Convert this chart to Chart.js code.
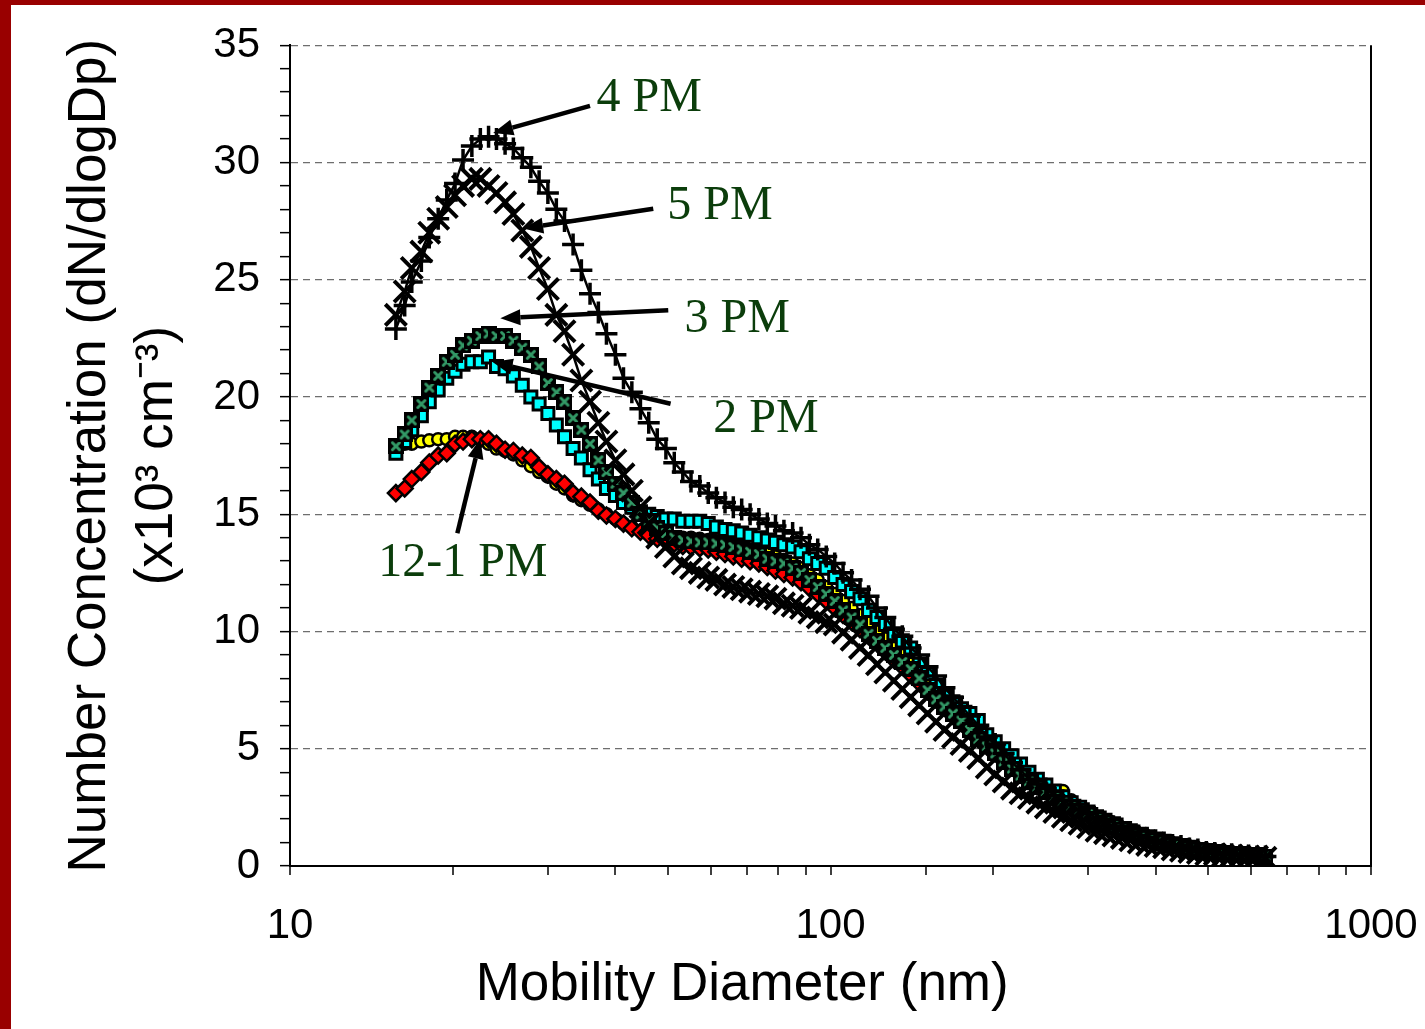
<!DOCTYPE html>
<html>
<head>
<meta charset="utf-8">
<script src="https://cdn.jsdelivr.net/npm/chart.js@4/dist/chart.umd.min.js"></script>
<style>
  html, body { margin: 0; padding: 0; background: #ffffff; }
  #wrap { position: relative; width: 1425px; height: 1029px; overflow: hidden; background: #ffffff; }
  #c { position: absolute; left: 0; top: 0; }
  .bar { position: absolute; background: #990000; }
</style>
</head>
<body>
<div id="wrap">
  <canvas id="c" width="1425" height="1029"></canvas>
  <div class="bar" style="left:0;top:0;width:1425px;height:5px;"></div>
  <div class="bar" style="left:0;top:0;width:11px;height:1029px;"></div>
</div>
<script>
// ---- data ----
const diameters = [15.7, 16.3, 16.8, 17.5, 18.1, 18.8, 19.5, 20.2, 20.9, 21.7,
  22.5, 23.3, 24.1, 25.0, 25.9, 26.9, 27.9, 28.9, 30.0, 31.1,
  32.2, 33.4, 34.6, 35.9, 37.2, 38.5, 40.0, 41.4, 42.9, 44.5,
  46.1, 47.8, 49.6, 51.4, 53.3, 55.2, 57.3, 59.4, 61.5, 63.8,
  66.1, 68.5, 71.0, 73.7, 76.4, 79.1, 82.0, 85.1, 88.2, 91.4,
  94.7, 98.2, 101.8, 105.5, 109.4, 113.4, 117.6, 121.9, 126.3, 131.0,
  135.8, 140.7, 145.9, 151.2, 156.8, 162.5, 168.5, 174.7, 181.1, 187.7,
  194.6, 201.7, 209.1, 216.7, 224.7, 232.9, 241.4, 250.3, 259.5, 269.0,
  278.8, 289.0, 299.6, 310.6, 322.0, 333.8, 346.0, 358.7, 371.8, 385.4,
  399.5, 414.2, 429.4, 445.1, 461.4, 478.3, 495.8, 514.0, 532.8, 552.3,
  572.5, 593.5, 615.3, 637.8];

const seriesNames = ["12 PM", "1 PM", "2 PM", "3 PM", "4 PM", "5 PM"];

const pm12 = [17.8, 18.0, 18.0, 18.1, 18.15, 18.2, 18.2, 18.3, 18.3, 18.3,
  18.2, 18.0, 17.8, 17.7, 17.55, 17.3, 17.05, 16.8, 16.6, 16.3,
  16.1, 15.8, 15.6, 15.4, 15.2, 15.0, 14.8, 14.6, 14.45, 14.3,
  14.2, 14.1, 14.0, 14.0, 14.0, 14.0, 13.95, 13.9, 13.85, 13.8,
  13.7, 13.6, 13.5, 13.4, 13.3, 13.2, 13.05, 12.9, 12.7, 12.4,
  12.2, 11.9, 11.6, 11.3, 11.0, 10.7, 10.4, 10.0, 9.7, 9.3,
  9.0, 8.7, 8.3, 7.9, 7.5, 7.1, 6.8, 6.5, 6.1, 5.8,
  5.4, 5.1, 4.75, 4.45, 4.15, 3.85, 3.6, 3.4, 3.15, 3.2,
  2.8, 2.5, 2.3, 2.1, 1.95, 1.8, 1.6, 1.5, 1.35, 1.25,
  1.15, 1.05, 0.95, 0.85, 0.8, 0.7, 0.65, 0.6, 0.55, 0.5,
  0.5, 0.45, 0.45, 0.4];

const pm1 = [15.9, 16.1, 16.5, 16.8, 17.2, 17.5, 17.6, 18.0, 18.1, 18.2,
  18.2, 18.2, 18.0, 17.75, 17.7, 17.5, 17.4, 17.0, 16.7, 16.5,
  16.3, 15.9, 15.75, 15.5, 15.15, 14.95, 14.8, 14.6, 14.4, 14.25,
  14.1, 13.95, 13.85, 13.75, 13.65, 13.6, 13.55, 13.5, 13.4, 13.3,
  13.2, 13.1, 13.0, 12.9, 12.75, 12.6, 12.45, 12.3, 12.1, 11.85,
  11.6, 11.3, 11.0, 10.7, 10.4, 10.1, 9.8, 9.5, 9.15, 8.8,
  8.5, 8.15, 7.8, 7.45, 7.1, 6.75, 6.4, 6.1, 5.75, 5.4,
  5.1, 4.8, 4.5, 4.2, 3.9, 3.65, 3.4, 3.2, 2.95, 2.75,
  2.55, 2.4, 2.2, 2.05, 1.9, 1.75, 1.6, 1.45, 1.35, 1.25,
  1.1, 1.0, 0.95, 0.85, 0.8, 0.7, 0.65, 0.6, 0.55, 0.5,
  0.5, 0.45, 0.45, 0.4];

const pm2 = [17.6, 18.1, 18.6, 19.2, 19.8, 20.3, 20.8, 21.1, 21.4, 21.5,
  21.5, 21.7, 21.3, 21.2, 20.9, 20.5, 20.0, 19.7, 19.3, 18.8,
  18.3, 17.8, 17.4, 16.9, 16.5, 16.1, 15.8, 15.5, 15.3, 15.1,
  15.0, 14.9, 14.8, 14.8, 14.7, 14.7, 14.7, 14.6, 14.45, 14.35,
  14.3, 14.2, 14.1, 14.0, 13.9, 13.8, 13.7, 13.6, 13.4, 13.1,
  12.9, 12.7, 12.3, 12.0, 11.7, 11.4, 10.9, 10.6, 10.3, 9.9,
  9.6, 9.3, 8.6, 8.2, 7.7, 7.25, 7.0, 6.7, 6.5, 6.2,
  5.6, 5.3, 5.0, 4.7, 4.35, 4.0, 3.7, 3.45, 3.2, 2.95,
  2.7, 2.5, 2.3, 2.1, 1.95, 1.8, 1.6, 1.5, 1.35, 1.25,
  1.15, 1.05, 0.95, 0.85, 0.8, 0.7, 0.65, 0.6, 0.55, 0.5,
  0.5, 0.45, 0.45, 0.4];

const pm3 = [17.9, 18.4, 19.0, 19.7, 20.4, 20.9, 21.5, 21.8, 22.2, 22.4,
  22.6, 22.7, 22.6, 22.6, 22.4, 22.1, 21.8, 21.3, 20.6, 20.2,
  19.8, 19.1, 18.6, 18.0, 17.3, 16.8, 16.3, 15.9, 15.5, 15.0,
  14.7, 14.4, 14.2, 14.0, 13.9, 13.85, 13.8, 13.8, 13.75, 13.7,
  13.6, 13.5, 13.4, 13.3, 13.1, 13.0, 12.9, 12.7, 12.5, 12.2,
  11.9, 11.6, 11.3, 10.9, 10.6, 10.3, 9.9, 9.6, 9.3, 9.0,
  8.7, 8.4, 8.0, 7.5, 7.1, 6.8, 6.5, 6.2, 5.8, 5.4,
  5.1, 4.8, 4.45, 4.15, 3.85, 3.6, 3.35, 3.15, 2.9, 2.7,
  2.5, 2.35, 2.2, 2.0, 1.85, 1.7, 1.55, 1.4, 1.3, 1.2,
  1.1, 1.0, 0.9, 0.85, 0.75, 0.7, 0.65, 0.6, 0.55, 0.5,
  0.5, 0.45, 0.45, 0.4];

const pm4 = [22.9, 23.9, 24.9, 25.8, 26.8, 27.6, 28.4, 29.1, 30.1, 30.7,
  31.0, 31.1, 31.0, 30.8, 30.6, 30.2, 29.8, 29.2, 28.7, 28.0,
  27.5, 26.5, 25.4, 24.4, 23.6, 22.7, 21.8, 20.8, 20.2, 19.5,
  18.9, 18.2, 17.8, 17.2, 16.8, 16.4, 16.2, 15.9, 15.7, 15.5,
  15.3, 15.2, 15.0, 14.8, 14.6, 14.5, 14.3, 14.2, 14.0, 13.7,
  13.5, 13.2, 12.9, 12.5, 12.2, 11.8, 11.5, 11.0, 10.6, 10.1,
  9.8, 9.3, 9.0, 8.5, 8.1, 7.6, 7.2, 6.8, 6.4, 6.0,
  5.5, 5.2, 4.8, 4.4, 4.1, 3.7, 3.5, 3.3, 3.0, 2.8,
  2.6, 2.4, 2.25, 2.05, 1.9, 1.7, 1.6, 1.45, 1.3, 1.2,
  1.1, 1.0, 0.9, 0.85, 0.75, 0.7, 0.6, 0.55, 0.5, 0.5,
  0.45, 0.45, 0.4, 0.4];

const pm5 = [23.5, 24.5, 25.5, 26.2, 27.0, 27.6, 28.1, 28.6, 29.0, 29.3,
  29.3, 29.0, 28.7, 28.3, 27.8, 27.1, 26.4, 25.5, 24.6, 23.5,
  22.8, 21.8, 20.7, 19.8, 18.9, 18.1, 17.3, 16.7, 16.0, 15.3,
  14.6, 14.0, 13.6, 13.2, 12.9, 12.7, 12.5, 12.3, 12.2, 12.0,
  11.9, 11.8, 11.7, 11.6, 11.5, 11.4, 11.2, 11.1, 11.0, 10.8,
  10.6, 10.4, 10.3, 9.95, 9.65, 9.3, 9.0, 8.6, 8.25, 7.9,
  7.55, 7.2, 6.85, 6.5, 6.15, 5.8, 5.5, 5.2, 4.9, 4.6,
  4.2, 3.9, 3.6, 3.3, 3.1, 2.9, 2.7, 2.5, 2.3, 2.1,
  1.95, 1.8, 1.65, 1.5, 1.4, 1.3, 1.2, 1.1, 1.0, 0.9,
  0.85, 0.8, 0.7, 0.65, 0.6, 0.55, 0.5, 0.5, 0.45, 0.45,
  0.4, 0.4, 0.4, 0.35];

const xTickLabels = [10, 100, 1000];
const yTickLabels = [0, 5, 10, 15, 20, 25, 30, 35];

// annotation labels (anchored in data units: diameter nm, concentration)
const annoText = ["4 PM", "5 PM", "3 PM", "2 PM", "12-1 PM"];
const annoTextAt = [[36.9, 32.75], [49.9, 28.12], [53.7, 23.32], [60.7, 19.03], [14.56, 12.91]];
const annoTail = [[35.9, 32.41], [47.0, 28.03], [50.1, 23.70], [50.6, 19.71], [20.4, 14.19]];
const annoHead = [[23.76, 31.26], [27.0, 27.18], [24.5, 23.36], [23.7, 21.49], [22.5, 18.22]];

// ---- marker for 3 PM: black square with green cross ----
function makeGreenX() {
  const c = document.createElement('canvas');
  c.width = 16; c.height = 16;
  const g = c.getContext('2d');
  g.fillStyle = '#000000';
  g.fillRect(0, 0, 16, 16);
  g.strokeStyle = '#339966';
  g.lineWidth = 3;
  g.lineCap = 'round';
  g.beginPath();
  g.moveTo(4.5, 4.5); g.lineTo(11.5, 11.5);
  g.moveTo(11.5, 4.5); g.lineTo(4.5, 11.5);
  g.stroke();
  return c;
}

function pts(arr) { return diameters.map((d, i) => ({x: d, y: arr[i]})); }

const annotationPlugin = {
  id: 'arrowLabels',
  afterDatasetsDraw(chart) {
    const {ctx, scales: {x, y}} = chart;
    ctx.save();
    for (let i = 0; i < annoText.length; i++) {
      const tx = x.getPixelForValue(annoTail[i][0]), ty = y.getPixelForValue(annoTail[i][1]);
      const hx = x.getPixelForValue(annoHead[i][0]), hy = y.getPixelForValue(annoHead[i][1]);
      const ang = Math.atan2(hy - ty, hx - tx);
      const headLen = 20, headW = 8;
      const bx = hx - headLen * Math.cos(ang), by = hy - headLen * Math.sin(ang);
      ctx.strokeStyle = '#000000';
      ctx.lineWidth = 4.5;
      ctx.beginPath();
      ctx.moveTo(tx, ty);
      ctx.lineTo(bx, by);
      ctx.stroke();
      ctx.fillStyle = '#000000';
      ctx.beginPath();
      ctx.moveTo(hx, hy);
      ctx.lineTo(bx + headW * Math.sin(ang), by - headW * Math.cos(ang));
      ctx.lineTo(bx - headW * Math.sin(ang), by + headW * Math.cos(ang));
      ctx.closePath();
      ctx.fill();
      ctx.fillStyle = '#0b3d0b';
      ctx.font = '48px "Liberation Serif", "Times New Roman", serif';
      ctx.textAlign = 'left';
      ctx.textBaseline = 'middle';
      ctx.fillText(annoText[i], x.getPixelForValue(annoTextAt[i][0]), y.getPixelForValue(annoTextAt[i][1]));
    }
    ctx.restore();
  }
};

const tickFont = {family: '"Liberation Sans", Arial, sans-serif', size: 42};
const titleFont = {family: '"Liberation Sans", Arial, sans-serif', size: 53, lineHeight: 1.28};

new Chart(document.getElementById('c'), {
  type: 'scatter',
  data: {
    datasets: [
      {label: seriesNames[0], data: pts(pm12), order: 6, showLine: false,
       pointStyle: 'circle', pointRadius: 6, pointBackgroundColor: '#ffff00', pointBorderColor: '#000000', pointBorderWidth: 2.5},
      {label: seriesNames[1], data: pts(pm1), order: 5, showLine: false,
       pointStyle: 'rectRot', pointRadius: 8, pointBackgroundColor: '#ff0000', pointBorderColor: '#000000', pointBorderWidth: 2.5},
      {label: seriesNames[2], data: pts(pm2), order: 4, showLine: false,
       pointStyle: 'rect', pointRadius: 8.5, pointBackgroundColor: '#00ffff', pointBorderColor: '#000000', pointBorderWidth: 3},
      {label: seriesNames[3], data: pts(pm3), order: 3, showLine: false,
       pointStyle: makeGreenX(), pointRadius: 9},
      {label: seriesNames[4], data: pts(pm4), order: 2, showLine: true, borderColor: '#000000', borderWidth: 2.5,
       pointStyle: 'cross', pointRadius: 11, pointBorderColor: '#000000', pointBorderWidth: 3.5},
      {label: seriesNames[5], data: pts(pm5), order: 1, showLine: true, borderColor: '#000000', borderWidth: 2.5,
       pointStyle: 'crossRot', pointRadius: 15, pointBorderColor: '#000000', pointBorderWidth: 4}
    ]
  },
  options: {
    responsive: false,
    animation: false,
    events: [],
    layout: {padding: {left: 0, top: 42, right: 54, bottom: 0}},
    plugins: {legend: {display: false}, tooltip: {enabled: false}},
    scales: {
      x: {
        type: 'logarithmic',
        min: 10, max: 1000,
        afterFit: s => { s.height = 163; s.paddingRight = 0; s.paddingLeft = 0; },
        border: {display: true, color: '#000000', width: 2},
        grid: {
          color: c => (c.tick && c.tick.value === 1000) ? '#000000' : 'rgba(0,0,0,0)',
          lineWidth: 2,
          tickColor: '#000000', tickLength: 9, tickWidth: 1.5
        },
        ticks: {
          autoSkip: false, maxRotation: 0, color: '#000000', font: tickFont, padding: 26,
          callback: v => xTickLabels.includes(v) ? String(v) : ''
        },
        title: {
          display: true, text: 'Mobility Diameter (nm)            ', color: '#000000',
          font: titleFont, padding: {top: 0, bottom: 10}
        }
      },
      y: {
        type: 'linear',
        min: 0, max: 35,
        afterFit: s => { s.width = 290; },
        border: {display: true, color: '#000000', width: 2, dash: [7, 5]},
        grid: {
          color: c => (c.tick && c.tick.value % 5 === 0 && c.tick.value !== 0) ? '#6e6e6e' : 'rgba(0,0,0,0)',
          lineWidth: 1.3,
          tickColor: '#000000', tickLength: 10, tickWidth: 1.5
        },
        ticks: {
          stepSize: 1, autoSkip: false, color: '#000000', font: tickFont, padding: 20,
          callback: v => yTickLabels.includes(v) ? String(v) : ''
        },
        title: {
          display: true, text: ['Number Concentration (dN/dlogDp)', '(x10\u00B3 cm\u207B\u00B3)'], color: '#000000',
          font: titleFont, padding: {top: 56, bottom: 0}
        }
      }
    }
  },
  plugins: [annotationPlugin]
});
</script>
</body>
</html>
